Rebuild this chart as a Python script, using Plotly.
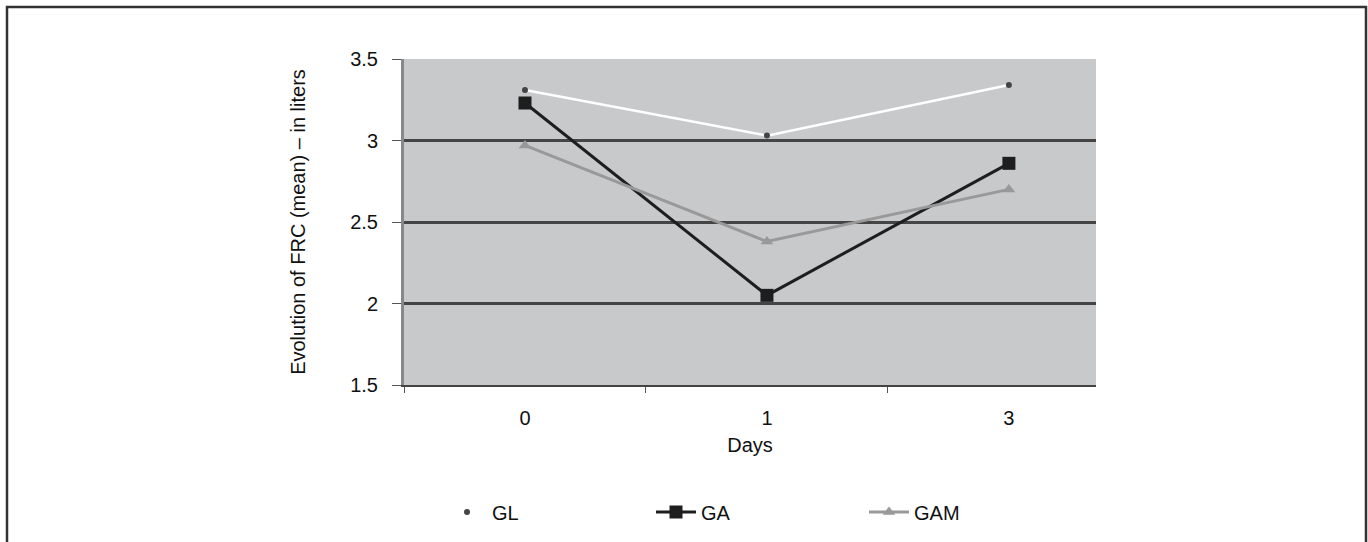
import plotly.graph_objects as go

days = ["0", "1", "3"]
gl = [3.31, 3.03, 3.34]
ga = [3.23, 2.05, 2.86]
gam = [2.97, 2.38, 2.70]
y_ticks = [1.5, 2, 2.5, 3, 3.5]
y_tick_labels = ["1.5", "2", "2.5", "3", "3.5"]

W, H = 1368, 542
L, R, T, B = 404, 272, 59, 157
pw, ph = W - L - R, H - T - B

FONT = "Liberation Sans, Arial, sans-serif"
FS = 20

def px_x(p):
    return (p - L) / pw

def px_y(p):
    return (H - B - p) / ph

fig = go.Figure()
fig.add_trace(go.Scatter(x=days, y=gl, name="GL", mode="lines+markers",
                         line=dict(color="white", width=2.5),
                         marker=dict(symbol="circle", size=6, color="#444"),
                         legend="legend"))
fig.add_trace(go.Scatter(x=days, y=ga, name="GA", mode="lines+markers",
                         line=dict(color="#1e1e1e", width=3),
                         marker=dict(symbol="square", size=13, color="#1e1e1e"),
                         legend="legend2"))
fig.add_trace(go.Scatter(x=days, y=gam, name="GAM", mode="lines+markers",
                         line=dict(color="#999", width=3),
                         marker=dict(symbol="triangle-up", size=11, color="#999"),
                         legend="legend3"))

fig.add_shape(type="rect", xref="paper", yref="paper",
              x0=px_x(7), x1=px_x(1366), y0=px_y(560), y1=px_y(7),
              line=dict(color="#333", width=2.5), fillcolor="rgba(0,0,0,0)", layer="below")

leg_common = dict(orientation="h", yanchor="middle", xanchor="left",
                  y=px_y(512), font=dict(size=FS, family=FONT, color="#111"),
                  bgcolor="rgba(0,0,0,0)", itemwidth=40)

fig.update_layout(
    width=W, height=H,
    margin=dict(l=L, r=R, t=T, b=B, autoexpand=False),
    paper_bgcolor="white",
    plot_bgcolor="#c8c9cb",
    font=dict(family=FONT, size=FS, color="#111"),
    showlegend=True,
    legend=dict(x=px_x(442), **leg_common),
    legend2=dict(x=px_x(651), **leg_common),
    legend3=dict(x=px_x(864), **leg_common),
    xaxis=dict(
        type="category", range=[-0.5, 2.36],
        showgrid=False, showline=True, linecolor="#444", linewidth=2,
        ticks="outside", tickson="boundaries", ticklen=6, tickcolor="#555",
        ticklabelstandoff=14,
        title=dict(text="Days", standoff=10, font=dict(size=FS)),
        zeroline=False, automargin=False,
    ),
    yaxis=dict(
        range=[1.5, 3.5], tickvals=y_ticks, ticktext=y_tick_labels,
        showgrid=True, gridcolor="#454545", gridwidth=2.5,
        showline=True, linecolor="#888", linewidth=3,
        ticks="outside", ticklen=9, tickcolor="#555",
        ticklabelstandoff=10,
        title=dict(text="Evolution of FRC (mean) – in liters", standoff=40, font=dict(size=FS)),
        zeroline=False, automargin=False,
    ),
)

fig.write_html("out.html")
